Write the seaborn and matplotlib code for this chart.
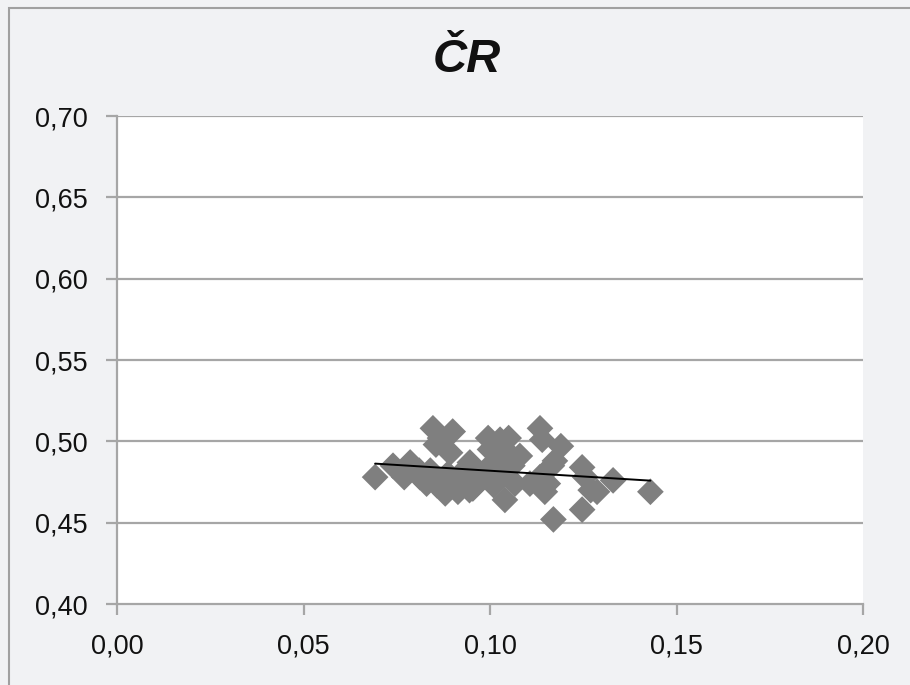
import matplotlib
matplotlib.use("Agg")
import matplotlib.pyplot as plt
import seaborn as sns
import numpy as np
import pandas as pd
from matplotlib.patches import Rectangle
from matplotlib.ticker import FuncFormatter

title = "ČR"
x_vals = [0.0692, 0.0740, 0.0770, 0.0786, 0.0810, 0.0830, 0.0840, 0.0847, 0.0855, 0.0866,
          0.0880, 0.0893, 0.0900, 0.0887, 0.0920, 0.0914, 0.0930, 0.0946, 0.0954, 0.0973,
          0.0987, 0.1000, 0.0995, 0.1010, 0.1020, 0.1027, 0.1040, 0.1050, 0.1040, 0.1060,
          0.1067, 0.1080, 0.1107, 0.1134, 0.1134, 0.1140, 0.1147, 0.1155, 0.1166, 0.1170,
          0.1174, 0.1190, 0.1247, 0.1255, 0.1247, 0.1270, 0.1287, 0.1330, 0.1430,
          0.0812, 0.0858, 0.0905, 0.0935, 0.0965, 0.0990, 0.1025, 0.0880, 0.0945]
y_vals = [0.478, 0.485, 0.478, 0.487, 0.482, 0.474, 0.482, 0.508, 0.498, 0.502,
          0.476, 0.493, 0.506, 0.480, 0.473, 0.469, 0.482, 0.487, 0.471, 0.478,
          0.482, 0.495, 0.502, 0.473, 0.488, 0.501, 0.495, 0.502, 0.464, 0.485,
          0.474, 0.491, 0.474, 0.478, 0.508, 0.501, 0.469, 0.474, 0.485, 0.452,
          0.488, 0.497, 0.484, 0.478, 0.458, 0.470, 0.469, 0.476, 0.469,
          0.478, 0.473, 0.476, 0.478, 0.474, 0.479, 0.478, 0.468, 0.470]
x_ticks = [0.00, 0.05, 0.10, 0.15, 0.20]
y_ticks = [0.40, 0.45, 0.50, 0.55, 0.60, 0.65, 0.70]

df = pd.DataFrame({"x": x_vals, "y": y_vals})

sns.set_theme(style="white")
plt.rcParams["font.family"] = ["Liberation Sans", "DejaVu Sans"]

fig = plt.figure(figsize=(9.1, 6.85), dpi=100, facecolor="#f1f2f4")
ax = fig.add_axes([117/910, 1-604/685, (863-117)/910, (604-116)/685])
ax.set_facecolor("white")

# figure border
fig.patches.append(Rectangle((9/910, -0.1), 1.2, 1 - 8/685 + 0.1, transform=fig.transFigure,
                             fill=False, edgecolor="#a0a0a0", linewidth=1.5, zorder=0))

ax.set_xlim(0, 0.20)
ax.set_ylim(0.40, 0.70)
ax.set_xticks(x_ticks)
ax.set_yticks(y_ticks)
fmt = FuncFormatter(lambda v, p: f"{v:.2f}".replace(".", ","))
ax.xaxis.set_major_formatter(fmt)
ax.yaxis.set_major_formatter(fmt)

for yv in y_ticks[1:]:
    ax.axhline(yv, color="#a6a6a6", linewidth=1.6, zorder=1)

sns.scatterplot(data=df, x="x", y="y", ax=ax, marker="D", s=185, color="#7f7f7f",
                edgecolor="none", linewidth=0, zorder=3)
sns.regplot(data=df, x="x", y="y", ax=ax, scatter=False, ci=None, truncate=True,
            line_kws={"color": "black", "linewidth": 1.4, "zorder": 4})

ax.set_xlabel("")
ax.set_ylabel("")
for s in ["top", "right"]:
    ax.spines[s].set_visible(False)
for s in ["left", "bottom"]:
    ax.spines[s].set_color("#a6a6a6")
    ax.spines[s].set_linewidth(1.6)
ax.tick_params(axis="both", which="major", length=8, width=1.6, color="#a6a6a6",
               labelsize=19.5, labelcolor="#111111", bottom=True, left=True)
ax.tick_params(axis="x", pad=13)
ax.tick_params(axis="y", pad=13)

fig.text(0.513, 1 - 60/685, title, ha="center", va="center", fontsize=34,
         fontweight="bold", fontstyle="italic", color="#111111")

fig.savefig("out.png", dpi=100, facecolor=fig.get_facecolor())
